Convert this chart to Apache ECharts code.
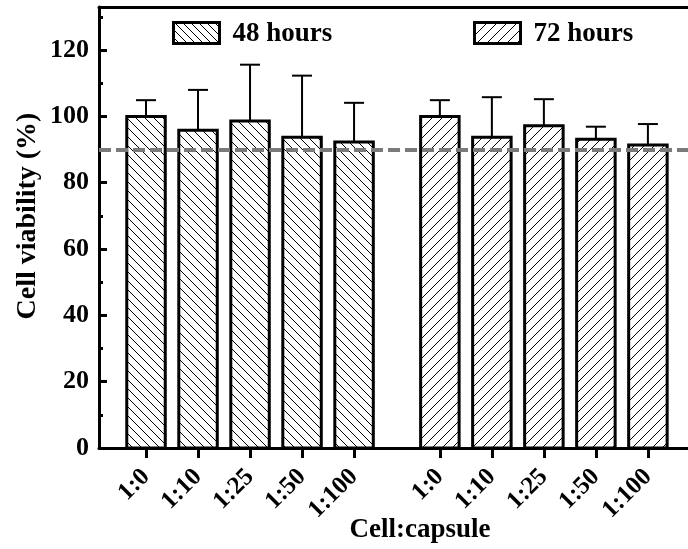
<!DOCTYPE html>
<html>
<head>
<meta charset="utf-8">
<title>Cell viability</title>
<script src="https://cdn.jsdelivr.net/npm/echarts@6/dist/echarts.min.js"></script>
<style>
  html, body { margin: 0; padding: 0; background: #fff; }
  #chart { width: 688px; height: 549px; }
</style>
</head>
<body>
<div id="chart"></div>
<script>
// Cell:capsule ratios tested at each time point
const ratios = ['1:0', '1:10', '1:25', '1:50', '1:100'];
// Bar centres along the x scale (second group set apart from the first)
const pos48 = [1, 2, 3, 4, 5];
const pos72 = [6.65, 7.65, 8.65, 9.65, 10.65];
// Mean viability (%) and upper error (%)
const mean48 = [100, 95.8, 98.6, 93.7, 92.3];
const err48 = [4.9, 12.2, 17.0, 18.6, 11.8];
const mean72 = [100, 93.7, 97.2, 93.1, 91.4];
const err72 = [4.9, 12.1, 8.0, 3.8, 6.3];
// Y axis ticks
const yMajor = [0, 20, 40, 60, 80, 100, 120];
const yMinor = [10, 30, 50, 70, 90, 110, 130];
const threshold = 90;

const FONT = '"Liberation Serif", "Times New Roman", serif';
const xMin = 0.096, xMax = 12.44, yMax = 133;
const halfW = 0.37;

const xPositions = pos48.concat(pos72);
const xLabels = ratios.concat(ratios);

// Diagonal hatch segments clipped to a rectangle (dir 1: "\", dir -1: "/")
function hatch(x0, y0, x1, y1, step, dir, lw) {
  const out = [];
  const style = { stroke: '#000', lineWidth: lw || 1 };
  if (dir === 1) {
    const cStart = Math.ceil((y0 - x1) / step) * step;
    for (let c = cStart; c <= y1 - x0; c += step) {
      const xa = Math.max(x0, y0 - c), xb = Math.min(x1, y1 - c);
      if (xb - xa > 0.5) out.push({ type: 'line', shape: { x1: xa, y1: xa + c, x2: xb, y2: xb + c }, style });
    }
  } else {
    const cStart = Math.ceil((x0 + y0) / step) * step;
    for (let c = cStart; c <= x1 + y1; c += step) {
      const xa = Math.max(x0, c - y1), xb = Math.min(x1, c - y0);
      if (xb - xa > 0.5) out.push({ type: 'line', shape: { x1: xa, y1: c - xa, x2: xb, y2: c - xb }, style });
    }
  }
  return out;
}

function barRenderer(step, dir) {
  return function (params, api) {
    const x = api.value(0), y = api.value(1), e = api.value(2);
    const tl = api.coord([x - halfW, y]);
    const br = api.coord([x + halfW, 0]);
    const cx = api.coord([x, y])[0];
    const capY = api.coord([x, y + e])[1];
    const children = [];
    // error bar (upper only)
    children.push({ type: 'line', shape: { x1: cx, y1: tl[1], x2: cx, y2: capY }, style: { stroke: '#000', lineWidth: 2 } });
    children.push({ type: 'line', shape: { x1: cx - 10, y1: capY, x2: cx + 10, y2: capY }, style: { stroke: '#000', lineWidth: 2 } });
    // white body
    children.push({ type: 'rect', shape: { x: tl[0], y: tl[1], width: br[0] - tl[0], height: br[1] - tl[1] }, style: { fill: '#fff' } });
    // hatching
    hatch(tl[0], tl[1], br[0], br[1], step, dir, 1).forEach(function (l) { children.push(l); });
    // outline
    children.push({ type: 'rect', shape: { x: tl[0], y: tl[1], width: br[0] - tl[0], height: br[1] - tl[1] }, style: { fill: null, stroke: '#000', lineWidth: 3 } });
    return { type: 'group', children: children };
  };
}

function legendItem(bx, by, text, step, dir) {
  const w = 46, h = 21;
  const kids = [{ type: 'rect', shape: { x: bx, y: by, width: w, height: h }, style: { fill: '#fff' } }];
  hatch(bx, by, bx + w, by + h, step, dir, 1).forEach(function (l) { kids.push(l); });
  kids.push({ type: 'rect', shape: { x: bx, y: by, width: w, height: h }, style: { fill: null, stroke: '#000', lineWidth: 3 } });
  kids.push({ type: 'text', x: bx + w + 13, y: by + h / 2 + 1, style: { text: text, font: 'bold 27px ' + FONT, fill: '#000', textAlign: 'left', textVerticalAlign: 'middle' } });
  return { type: 'group', children: kids };
}

const chart = echarts.init(document.getElementById('chart'), null, { renderer: 'canvas' });

chart.setOption({
  backgroundColor: '#fff',
  animation: false,
  grid: { left: 99, top: 7, right: -53, bottom: 101, containLabel: false, outerBoundsMode: 'none' },
  xAxis: [
    {
      type: 'value', min: xMin, max: xMax, position: 'bottom',
      splitLine: { show: false },
      axisLine: { show: true, onZero: false, lineStyle: { color: '#000', width: 3 } },
      axisTick: { show: true, customValues: xPositions, length: 10, inside: false, lineStyle: { color: '#000', width: 3 } },
      axisLabel: {
        customValues: xPositions, rotate: 45, margin: 25,
        formatter: function (v) { const i = xPositions.indexOf(v); return i >= 0 ? xLabels[i] : ''; },
        color: '#000', fontFamily: FONT, fontWeight: 'bold', fontSize: 25
      }
    },
    {
      type: 'value', min: xMin, max: xMax, position: 'top',
      splitLine: { show: false }, axisTick: { show: false }, axisLabel: { show: false },
      axisLine: { show: true, onZero: false, lineStyle: { color: '#000', width: 3 } }
    }
  ],
  yAxis: [
    {
      type: 'value', min: 0, max: yMax, position: 'left',
      splitLine: { show: false },
      axisLine: { show: true, onZero: false, lineStyle: { color: '#000', width: 3 } },
      axisTick: { show: true, customValues: yMajor, inside: true, length: 8, lineStyle: { color: '#000', width: 3 } },
      axisLabel: { customValues: yMajor, margin: 10, color: '#000', fontFamily: FONT, fontWeight: 'bold', fontSize: 26 }
    },
    {
      type: 'value', min: 0, max: yMax, position: 'left',
      splitLine: { show: false },
      axisLine: { show: false, onZero: false },
      axisTick: { show: true, customValues: yMinor, inside: true, length: 4, lineStyle: { color: '#000', width: 3 } },
      axisLabel: { show: false }
    }
  ],
  graphic: [
    {
      type: 'text', x: 28, y: 216, rotation: Math.PI / 2,
      style: { text: 'Cell viability (%)', font: 'bold 28px ' + FONT, fill: '#000', textAlign: 'center', textVerticalAlign: 'middle' }
    },
    {
      type: 'text', x: 420, y: 530,
      style: { text: 'Cell:capsule', font: 'bold 27px ' + FONT, fill: '#000', textAlign: 'center', textVerticalAlign: 'middle' }
    },
    legendItem(173.5, 22.5, '48 hours', 8, 1),
    legendItem(474.5, 22.5, '72 hours', 10, -1)
  ],
  series: [
    {
      name: '48 hours', type: 'custom', xAxisIndex: 0, yAxisIndex: 0,
      renderItem: barRenderer(9, 1),
      encode: { x: 0, y: [1, 2] },
      data: pos48.map(function (p, i) { return [p, mean48[i], err48[i]]; }),
      markLine: {
        silent: true, symbol: 'none', label: { show: false },
        lineStyle: { color: '#7a7a7a', width: 4, type: [12, 5] },
        data: [{ yAxis: threshold }]
      }
    },
    {
      name: '72 hours', type: 'custom', xAxisIndex: 0, yAxisIndex: 0,
      renderItem: barRenderer(10, -1),
      encode: { x: 0, y: [1, 2] },
      data: pos72.map(function (p, i) { return [p, mean72[i], err72[i]]; })
    }
  ]
});
</script>
</body>
</html>
